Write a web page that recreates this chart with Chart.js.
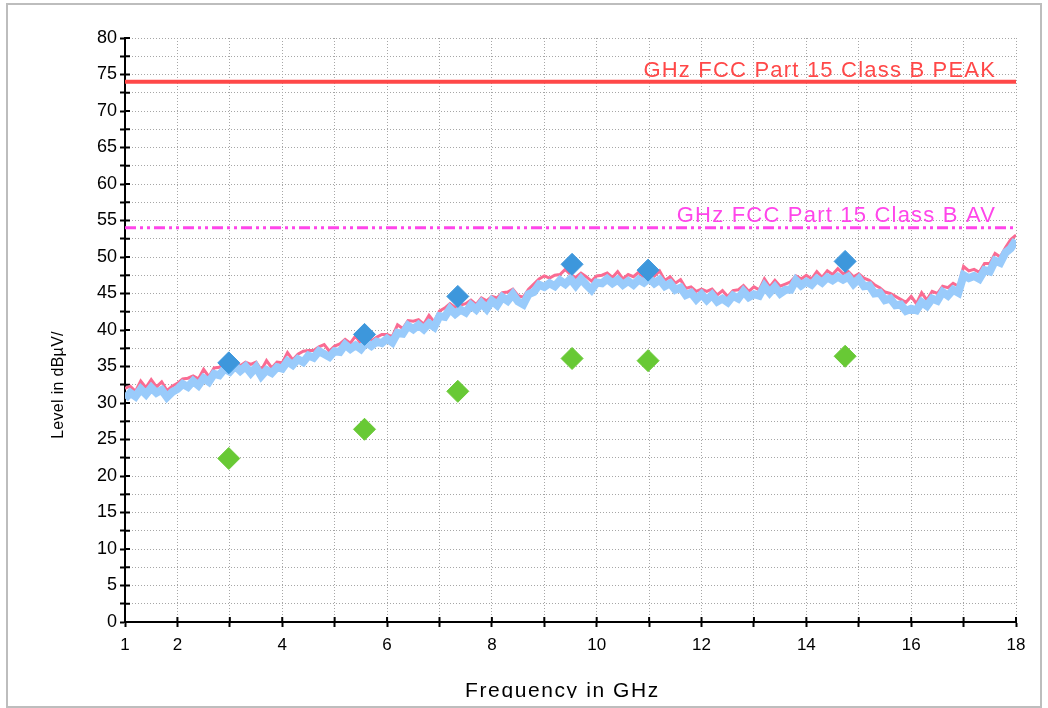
<!DOCTYPE html>
<html>
<head>
<meta charset="utf-8">
<script src="https://cdn.jsdelivr.net/npm/chart.js@4/dist/chart.umd.min.js"></script>
<style>
  html, body { margin: 0; padding: 0; background: #fff; }
  #wrap { position: relative; width: 1048px; height: 708px; }
  #frame { position: absolute; left: 6px; top: 3px; width: 1032px; height: 701px; border: 2px solid #bdbdbd; pointer-events: none; }
  canvas { position: absolute; left: 0; top: 0; }
</style>
</head>
<body>
<div id="wrap"><canvas id="emiChart" width="1048" height="708"></canvas><div id="frame"></div></div>
<script>
// sweep: 1 GHz .. 18 GHz, one reading every 0.1 GHz
const sweepStartGHz = 1.0;
const sweepStepGHz = 0.1;

// max-peak trace (pink), dBuV
const peakTrace = [
  32.0, 32.3, 31.6, 33.0, 32.1, 33.2, 32.2, 32.9, 31.7, 32.3,
  32.7, 33.3, 33.4, 33.7, 33.3, 34.6, 33.6, 34.8, 34.9, 35.4,
  35.2, 35.8, 35.1, 35.6, 35.3, 35.6, 34.5, 35.8, 34.8, 35.6,
  35.5, 36.9, 35.9, 36.7, 37.1, 37.2, 37.2, 37.7, 38.0, 37.1,
  37.8, 38.1, 38.7, 38.2, 39.2, 38.1, 39.2, 38.5, 39.0, 39.4,
  39.4, 39.1, 40.7, 40.2, 41.3, 41.2, 41.4, 40.8, 42.0, 41.1,
  42.6, 43.0, 43.6, 43.1, 43.4, 43.6, 44.1, 43.5, 44.4, 44.0,
  44.6, 44.4, 45.1, 45.2, 45.6, 44.7, 44.5, 45.6, 46.3, 47.0,
  47.4, 47.1, 47.5, 47.6, 48.3, 47.6, 47.2, 47.8, 47.3, 46.7,
  47.4, 47.5, 47.8, 47.2, 48.0, 47.0, 47.6, 47.3, 47.9, 47.2,
  47.9, 47.4, 48.1, 46.8, 47.3, 46.4, 46.9, 45.7, 45.9, 45.3,
  45.6, 45.3, 45.6, 44.8, 45.4, 44.6, 45.4, 45.5, 46.1, 45.3,
  45.9, 45.5, 47.0, 45.9, 46.8, 46.0, 46.3, 46.6, 47.4, 47.0,
  47.5, 47.0, 48.0, 47.2, 48.1, 47.6, 48.4, 47.7, 48.0, 47.3,
  47.7, 47.1, 46.8, 46.2, 45.8, 45.2, 45.0, 44.6, 44.2, 43.8,
  44.6, 43.6, 45.1, 44.1, 45.3, 45.0, 46.0, 45.8, 46.4, 46.0,
  48.7, 48.1, 48.3, 47.9, 49.1, 49.1, 50.5, 50.0, 51.3, 52.4,
  53.0
];

// clear-write trace (light blue), dBuV
const sweepTrace = [
  30.6, 31.4, 30.9, 31.9, 31.2, 32.1, 31.4, 31.8, 30.8, 31.5,
  31.9, 32.6, 32.2, 33.0, 32.4, 33.4, 32.9, 34.0, 33.8, 34.7,
  34.3, 35.1, 34.4, 35.0, 34.1, 34.9, 33.7, 34.5, 34.1, 34.9,
  34.7, 35.7, 35.2, 36.0, 35.6, 36.5, 36.2, 37.1, 36.7, 36.3,
  37.1, 37.0, 38.0, 37.4, 37.9, 37.4, 38.3, 37.8, 38.4, 38.2,
  38.8, 38.3, 39.6, 39.5, 40.6, 40.1, 40.7, 40.1, 40.9, 40.4,
  41.9, 41.8, 42.9, 42.2, 42.8, 42.4, 43.4, 42.8, 43.7, 42.9,
  44.0, 43.4, 44.5, 44.0, 44.9, 43.9, 43.5, 44.9, 45.2, 46.2,
  45.9, 46.4, 46.0, 46.8, 46.3, 47.0, 46.1, 47.0, 46.2, 45.5,
  46.5, 46.4, 47.0, 46.4, 46.9, 46.2, 46.7, 46.2, 46.9, 46.5,
  47.1, 46.4, 46.9, 46.0, 46.4, 45.5, 45.8, 44.8, 45.1, 44.2,
  44.9, 44.1, 44.8, 43.9, 44.3, 43.8, 44.7, 44.3, 45.3, 44.5,
  44.9, 44.7, 46.0, 45.1, 45.9, 45.0, 45.5, 45.5, 46.8, 46.1,
  46.6, 46.2, 47.0, 46.5, 47.2, 46.8, 47.3, 46.9, 47.3, 46.3,
  47.0, 46.0, 46.1, 45.0, 45.1, 44.1, 44.3, 43.4, 43.5, 42.6,
  42.9, 42.7, 43.8, 43.3, 44.3, 44.0, 45.2, 44.7, 45.5, 45.1,
  47.5, 47.1, 47.4, 47.0, 48.2, 48.0, 49.5, 49.2, 50.6, 51.2,
  52.3
];

// final measurement points
const finalFreqs = [2.98, 5.57, 7.35, 9.53, 10.98, 14.74];
const finalPeak = [35.5, 39.4, 44.6, 49.0, 48.2, 49.4];
const finalAvg = [22.4, 26.4, 31.6, 36.1, 35.8, 36.4];

// limits
const limitPeak = 74;
const limitAvg = 54;
const limitPeakLabel = 'GHz FCC Part 15 Class B PEAK';
const limitAvgLabel = 'GHz FCC Part 15 Class B AV';

const xLabelled = [1, 2, 4, 6, 8, 10, 12, 14, 16, 18];
const yLabelStep = 5;

const xTitle = 'Frequency in GHz';
const yTitle = 'Level in dBµV/';

const pink = '#fa6b92';
const lightBlue = '#99cbfb';
const red = '#ff4848';
const magenta = '#ff45ea';
const gridGrey = '#a6a6a6';

const toPoints = (vals) => vals.map((v, i) => ({ x: +(sweepStartGHz + i * sweepStepGHz).toFixed(1), y: v }));
const markers = (vals) => vals.map((v, i) => ({ x: finalFreqs[i], y: v }));
const hline = (v) => [{ x: 1, y: v }, { x: 18, y: v }];

const extras = {
  id: 'extras',
  beforeDatasetsDraw(chart) {
    const { ctx, chartArea, scales: { x, y } } = chart;
    ctx.save();
    ctx.strokeStyle = '#000';
    ctx.lineWidth = 2;
    ctx.beginPath();
    y.ticks.forEach(t => {
      const py = y.getPixelForValue(t.value);
      ctx.moveTo(chartArea.left, py);
      ctx.lineTo(chartArea.left + 5, py);
    });
    x.ticks.forEach(t => {
      const px = x.getPixelForValue(t.value);
      ctx.moveTo(px, chartArea.bottom);
      ctx.lineTo(px, chartArea.bottom - 5);
    });
    ctx.stroke();
    ctx.restore();
  },
  afterDatasetsDraw(chart) {
    const { ctx, scales: { x, y } } = chart;
    ctx.save();
    ctx.font = '22px "Liberation Sans", Arial, sans-serif';
    ctx.letterSpacing = '1.2px';
    ctx.textAlign = 'right';
    ctx.textBaseline = 'alphabetic';
    ctx.fillStyle = red;
    ctx.fillText(limitPeakLabel, x.getPixelForValue(17.62), y.getPixelForValue(limitPeak) - 5);
    ctx.fillStyle = magenta;
    ctx.fillText(limitAvgLabel, x.getPixelForValue(17.62), y.getPixelForValue(limitAvg) - 6);
    ctx.restore();
  },
  afterDraw(chart) {
    const { ctx, chartArea } = chart;
    ctx.save();
    ctx.fillStyle = '#000';
    ctx.textAlign = 'center';
    // x title, bottom slightly cut off like the original
    ctx.beginPath();
    ctx.rect(0, 0, chart.width, 698);
    ctx.clip();
    ctx.font = '21px "Liberation Sans", Arial, sans-serif';
    ctx.letterSpacing = '1.6px';
    ctx.textBaseline = 'alphabetic';
    ctx.fillText(xTitle, (chartArea.left + chartArea.right) / 2 - 8, 697);
    // y title
    ctx.font = '16px "Liberation Sans", Arial, sans-serif';
    ctx.letterSpacing = '0.3px';
    ctx.textBaseline = 'middle';
    ctx.translate(59, (chartArea.top + chartArea.bottom) / 2 + 55);
    ctx.rotate(-Math.PI / 2);
    ctx.fillText(yTitle, 0, 0);
    ctx.restore();
  }
};

new Chart(document.getElementById('emiChart'), {
  type: 'line',
  data: {
    datasets: [
      {
        label: 'Final Peak',
        data: markers(finalPeak),
        showLine: false,
        pointStyle: 'rectRot',
        pointRadius: 11,
        pointBackgroundColor: '#3d97dc',
        pointBorderColor: '#3d97dc',
        pointBorderWidth: 1,
        order: 0
      },
      {
        label: 'Final Average',
        data: markers(finalAvg),
        showLine: false,
        pointStyle: 'rectRot',
        pointRadius: 11,
        pointBackgroundColor: '#68c935',
        pointBorderColor: '#68c935',
        pointBorderWidth: 1,
        order: 1
      },
      {
        label: limitPeakLabel,
        data: hline(limitPeak),
        borderColor: red,
        borderWidth: 4,
        pointRadius: 0,
        order: 2
      },
      {
        label: limitAvgLabel,
        data: hline(limitAvg),
        borderColor: magenta,
        borderWidth: 3,
        borderDash: [11, 4, 3, 4, 3, 4],
        pointRadius: 0,
        order: 3
      },
      {
        label: 'Sweep',
        data: toPoints(sweepTrace),
        borderColor: lightBlue,
        borderWidth: 8,
        pointRadius: 0,
        tension: 0,
        order: 4
      },
      {
        label: 'Max Peak',
        data: toPoints(peakTrace),
        borderColor: pink,
        borderWidth: 3,
        pointRadius: 0,
        tension: 0,
        order: 5
      }
    ]
  },
  options: {
    responsive: false,
    animation: false,
    layout: { padding: { left: 0, top: 38, right: 32, bottom: 0 } },
    plugins: {
      legend: { display: false },
      tooltip: { enabled: false }
    },
    scales: {
      x: {
        type: 'linear',
        min: 1,
        max: 18,
        afterFit(scale) { scale.height = 86; },
        ticks: {
          stepSize: 1,
          autoSkip: false,
          maxRotation: 0,
          padding: 8,
          color: '#000',
          font: { family: '"Liberation Sans", Arial, sans-serif', size: 17 },
          callback: (v) => (xLabelled.includes(v) ? String(v) : '')
        },
        grid: { color: gridGrey, lineWidth: 1, tickColor: '#000', tickWidth: 2, tickLength: 5 },
        border: { display: true, color: '#000', width: 2, dash: [1, 2] }
      },
      y: {
        min: 0,
        max: 80,
        afterFit(scale) { scale.width = 125; },
        ticks: {
          stepSize: 2.5,
          autoSkip: false,
          padding: 3,
          color: '#000',
          font: { family: '"Liberation Sans", Arial, sans-serif', size: 18 },
          callback: (v) => (v % yLabelStep === 0 ? String(v) : '')
        },
        grid: { color: gridGrey, lineWidth: 1, tickColor: '#000', tickWidth: 2, tickLength: 5 },
        border: { display: true, color: '#000', width: 2, dash: [1, 2] }
      }
    }
  },
  plugins: [extras]
});
</script>
</body>
</html>
